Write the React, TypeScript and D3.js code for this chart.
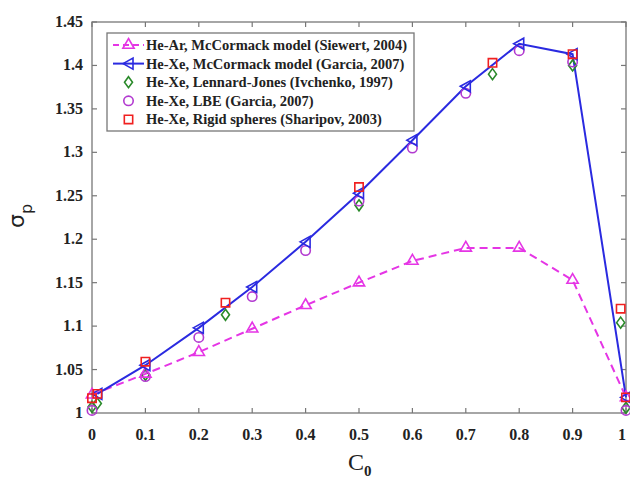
import * as d3 from "d3";
import { useRef, useEffect } from "react";

// concentration C0 and sigma_p values
const heArX = [0, 0.1, 0.2, 0.3, 0.4, 0.5, 0.6, 0.7, 0.8, 0.9, 1];
const heArY = [1.021, 1.045, 1.07, 1.097, 1.124, 1.15, 1.175, 1.19, 1.19, 1.153, 1.018];

const heXeX = [0.01, 0.1, 0.2, 0.3, 0.4, 0.5, 0.6, 0.7, 0.8, 0.9, 1];
const heXeY = [1.022, 1.055, 1.098, 1.145, 1.197, 1.253, 1.314, 1.376, 1.425, 1.413, 1.018];

const ljX = [0, 0.01, 0.1, 0.25, 0.5, 0.75, 0.9, 0.99, 1];
const ljY = [1.007, 1.011, 1.044, 1.113, 1.239, 1.39, 1.4, 1.104, 1.006];

const lbeX = [0, 0.1, 0.2, 0.3, 0.4, 0.5, 0.6, 0.7, 0.8, 0.9, 1];
const lbeY = [1.003, 1.042, 1.087, 1.134, 1.187, 1.244, 1.305, 1.368, 1.417, 1.404, 1.003];

const rsX = [0, 0.01, 0.1, 0.25, 0.5, 0.75, 0.9, 0.99, 1];
const rsY = [1.017, 1.022, 1.059, 1.127, 1.26, 1.403, 1.413, 1.12, 1.018];

const xTicks = [0, 0.1, 0.2, 0.3, 0.4, 0.5, 0.6, 0.7, 0.8, 0.9, 1];
const yTicks = [1, 1.05, 1.1, 1.15, 1.2, 1.25, 1.3, 1.35, 1.4, 1.45];

const legendLabels = [
  "He-Ar, McCormack model (Siewert, 2004)",
  "He-Xe, McCormack model (Garcia, 2007)",
  "He-Xe, Lennard-Jones (Ivchenko, 1997)",
  "He-Xe, LBE (Garcia, 2007)",
  "He-Xe, Rigid spheres (Sharipov, 2003)",
];

const MAGENTA = "#e535e5";
const BLUE = "#2a2ae0";
const GREEN = "#2a8a2a";
const PURPLE = "#b23ad0";
const RED = "#f02020";

export default function App() {
  const svgRef = useRef<SVGSVGElement>(null);

  useEffect(() => {
    const svg = d3.select(svgRef.current);
    svg.selectAll("*").remove();

    const left = 92, right = 626, top = 22, bottom = 413;
    const x = d3.scaleLinear().domain([0, 1]).range([left, right]);
    const y = d3.scaleLinear().domain([1, 1.45]).range([bottom, top]);
    const serif = "'Liberation Serif', 'Times New Roman', serif";

    svg.append("rect").attr("width", 630).attr("height", 478).attr("fill", "#fff");

    // box
    svg.append("rect")
      .attr("x", left).attr("y", top)
      .attr("width", right - left).attr("height", bottom - top)
      .attr("fill", "none").attr("stroke", "#777").attr("stroke-width", 1.3);

    const tickLen = 5;
    const g = svg.append("g").attr("stroke", "#777").attr("stroke-width", 1.2);
    xTicks.forEach((t) => {
      g.append("line").attr("x1", x(t)).attr("x2", x(t)).attr("y1", bottom).attr("y2", bottom - tickLen);
      g.append("line").attr("x1", x(t)).attr("x2", x(t)).attr("y1", top).attr("y2", top + tickLen);
    });
    yTicks.forEach((t) => {
      g.append("line").attr("x1", left).attr("x2", left + tickLen).attr("y1", y(t)).attr("y2", y(t));
      g.append("line").attr("x1", right).attr("x2", right - tickLen).attr("y1", y(t)).attr("y2", y(t));
    });

    svg.selectAll(".xl").data(xTicks).enter().append("text")
      .attr("x", (d) => Math.min(x(d), 622)).attr("y", 440)
      .attr("text-anchor", "middle")
      .attr("font-family", serif).attr("font-weight", "bold").attr("font-size", 16)
      .attr("fill", "#222")
      .text((d) => d3.format("")(d));

    svg.selectAll(".yl").data(yTicks).enter().append("text")
      .attr("x", 83).attr("y", (d) => y(d) + 5)
      .attr("text-anchor", "end")
      .attr("font-family", serif).attr("font-weight", "bold").attr("font-size", 16)
      .attr("fill", "#222")
      .text((d) => d3.format("")(d));

    // axis titles
    const xt = svg.append("text").attr("x", 348).attr("y", 470)
      .attr("font-family", serif).attr("font-size", 24).attr("fill", "#222");
    xt.append("tspan").text("C");
    xt.append("tspan").attr("dy", 6).attr("font-size", 15).attr("font-weight", "bold").text("0");

    const yt = svg.append("text")
      .attr("transform", "translate(24,228) rotate(-90)")
      .attr("font-family", "'DejaVu Sans', sans-serif").attr("font-size", 22).attr("fill", "#222");
    yt.append("tspan").text("σ");
    yt.append("tspan").attr("dy", 8).attr("font-size", 16).text("p");

    const line = d3.line<[number, number]>().x((d) => x(d[0])).y((d) => y(d[1]));
    const zip = (xs: number[], ys: number[]) => xs.map((v, i) => [v, ys[i]] as [number, number]);

    svg.append("path").datum(zip(heArX, heArY))
      .attr("d", line).attr("fill", "none").attr("stroke", MAGENTA)
      .attr("stroke-width", 2).attr("stroke-dasharray", "8,5");
    svg.append("path").datum(zip(heXeX, heXeY))
      .attr("d", line).attr("fill", "none").attr("stroke", BLUE)
      .attr("stroke-width", 2);

    const triUp = d3.symbol().type(d3.symbolTriangle).size(55)();
    const sq = d3.symbol().type(d3.symbolSquare).size(70)();
    const circ = d3.symbol().type(d3.symbolCircle).size(70)();
    const diam = "M0,-5.5L4,0L0,5.5L-4,0Z";
    const triLeft = "M-5.5,0L4.5,-5.5L4.5,5.5Z";

    const markers = (xs: number[], ys: number[], path: string | null, color: string) => {
      svg.append("g").selectAll("path").data(zip(xs, ys)).enter().append("path")
        .attr("d", path)
        .attr("transform", (d) => `translate(${x(d[0])},${y(d[1])})`)
        .attr("fill", "none").attr("stroke", color).attr("stroke-width", 1.6);
    };
    markers(ljX, ljY, diam, GREEN);
    markers(lbeX, lbeY, circ, PURPLE);
    markers(heArX, heArY, triUp, MAGENTA);
    markers(heXeX, heXeY, triLeft, BLUE);
    markers(rsX, rsY, sq, RED);

    // legend
    const lg = svg.append("g");
    lg.append("rect").attr("x", 107).attr("y", 33).attr("width", 307).attr("height", 98)
      .attr("fill", "#fff").attr("stroke", "#777").attr("stroke-width", 1.3);
    const items = [
      { color: MAGENTA, path: triUp, dash: "6,4", line: true },
      { color: BLUE, path: triLeft, dash: null, line: true },
      { color: GREEN, path: diam, dash: null, line: false },
      { color: PURPLE, path: circ, dash: null, line: false },
      { color: RED, path: sq, dash: null, line: false },
    ];
    items.forEach((it, i) => {
      const cy = 45 + i * 18.6;
      if (it.line) {
        lg.append("line").attr("x1", 113).attr("x2", 144).attr("y1", cy).attr("y2", cy)
          .attr("stroke", it.color).attr("stroke-width", 2)
          .attr("stroke-dasharray", it.dash);
      }
      lg.append("path").attr("d", it.path)
        .attr("transform", `translate(128.5,${cy})`)
        .attr("fill", "none").attr("stroke", it.color).attr("stroke-width", 1.6);
      lg.append("text").attr("x", 146).attr("y", cy + 5)
        .attr("font-family", serif).attr("font-weight", "bold").attr("font-size", 14.5)
        .attr("fill", "#222")
        .text(legendLabels[i]);
    });
  }, []);

  return (
    <div>
      <svg ref={svgRef} width={630} height={478}
        style={{ display: "block", position: "fixed", left: 0, top: 0 }} />
    </div>
  );
}
